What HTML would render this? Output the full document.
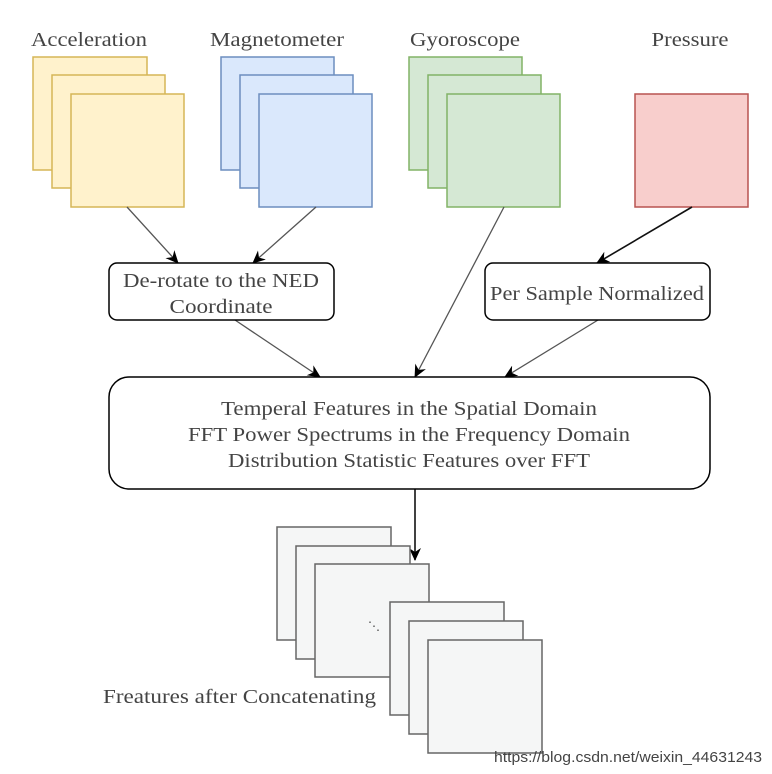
<!DOCTYPE html>
<html><head><meta charset="utf-8"><style>
html,body{margin:0;padding:0;background:#fff;}
svg{display:block;}
text{font-family:"Liberation Serif",serif;fill:#444;}
</style></head><body>
<svg width="772" height="774" viewBox="0 0 772 774" xmlns="http://www.w3.org/2000/svg">
<defs>
<marker id="a" markerWidth="14" markerHeight="14" refX="12" refY="6" orient="auto" markerUnits="userSpaceOnUse"><path d="M0,0 L13,6 L0,12 L4,6 z" fill="#000"/></marker>
</defs>
<g font-size="20" text-anchor="middle" lengthAdjust="spacingAndGlyphs">
<text x="89" y="46" textLength="116" lengthAdjust="spacingAndGlyphs">Acceleration</text>
<text x="277" y="46" textLength="134" lengthAdjust="spacingAndGlyphs">Magnetometer</text>
<text x="465" y="46" textLength="110" lengthAdjust="spacingAndGlyphs">Gyoroscope</text>
<text x="690" y="46" textLength="77" lengthAdjust="spacingAndGlyphs">Pressure</text>
</g>
<g stroke-width="1.5">
<g fill="#fff2cc" stroke="#d6b656">
<rect x="33" y="57" width="114" height="113"/><rect x="52" y="75" width="113" height="113"/><rect x="71" y="94" width="113" height="113"/></g>
<g fill="#dae8fc" stroke="#6c8ebf">
<rect x="221" y="57" width="113" height="113"/><rect x="240" y="75" width="113" height="113"/><rect x="259" y="94" width="113" height="113"/></g>
<g fill="#d5e8d4" stroke="#82b366">
<rect x="409" y="57" width="113" height="113"/><rect x="428" y="75" width="113" height="113"/><rect x="447" y="94" width="113" height="113"/></g>
<rect x="635" y="94" width="113" height="113" fill="#f8cecc" stroke="#b85450"/>
</g>
<g stroke="#555" stroke-width="1.3" marker-end="url(#a)">
<line x1="127" y1="207" x2="178" y2="263"/>
<line x1="316" y1="207" x2="253" y2="263"/>
<line x1="504" y1="207" x2="415" y2="377"/>
<line x1="235" y1="320" x2="320" y2="377"/>
<line x1="598" y1="320" x2="505" y2="377"/>
</g>
<line x1="692" y1="207" x2="597" y2="263" stroke="#111" stroke-width="1.6" marker-end="url(#a)"/>
<line x1="415" y1="489" x2="415" y2="560" stroke="#111" stroke-width="1.6" marker-end="url(#a)"/>
<rect x="109" y="263" width="225" height="57" rx="8" fill="#fff" stroke="#000" stroke-width="1.5"/>
<rect x="485" y="263" width="225" height="57" rx="8" fill="#fff" stroke="#000" stroke-width="1.5"/>
<rect x="109" y="377" width="601" height="112" rx="20" fill="#fff" stroke="#000" stroke-width="1.5"/>
<g font-size="20" text-anchor="middle">
<text x="221" y="287" textLength="196" lengthAdjust="spacingAndGlyphs">De-rotate to the NED</text>
<text x="221" y="313" textLength="103" lengthAdjust="spacingAndGlyphs">Coordinate</text>
<text x="597" y="300" textLength="214" lengthAdjust="spacingAndGlyphs">Per Sample Normalized</text>
<text x="409" y="415" textLength="376" lengthAdjust="spacingAndGlyphs">Temperal Features in the Spatial Domain</text>
<text x="409" y="441" textLength="442" lengthAdjust="spacingAndGlyphs">FFT Power Spectrums in the Frequency Domain</text>
<text x="409" y="467" textLength="362" lengthAdjust="spacingAndGlyphs">Distribution Statistic Features over FFT</text>
</g>
<g fill="#f5f6f6" stroke="#666" stroke-width="1.5">
<rect x="277" y="527" width="114" height="113"/><rect x="296" y="546" width="114" height="113"/><rect x="315" y="564" width="114" height="113"/>
<rect x="390" y="602" width="114" height="113"/><rect x="409" y="621" width="114" height="113"/><rect x="428" y="640" width="114" height="113"/>
</g>
<text x="368" y="630" font-size="12" fill="#777">⋱</text>
<text x="103" y="703" font-size="20" textLength="273" lengthAdjust="spacingAndGlyphs">Freatures after Concatenating</text>
<text x="494" y="762" font-size="15" fill="#e4e4e4" textLength="268" lengthAdjust="spacingAndGlyphs" style="font-family:'Liberation Sans',sans-serif">https://blog.csdn.net/weixin_44631243</text>
</svg>
</body></html>
